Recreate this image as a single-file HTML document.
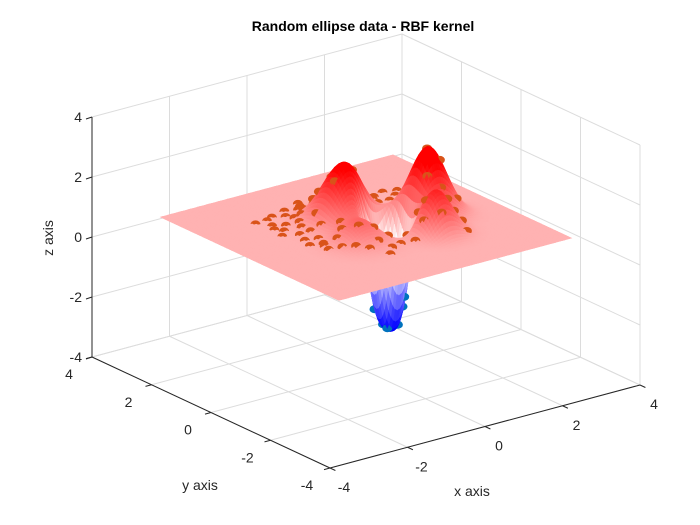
<!DOCTYPE html>
<html><head><meta charset="utf-8"><style>
html,body{margin:0;padding:0;background:#fff;}
svg{display:block;font-family:"Liberation Sans",Arial,sans-serif;}
</style></head><body>
<svg id="chart" width="700" height="525" viewBox="0 0 700 525">
<rect width="700" height="525" fill="#fff"/>
<g id="grid"></g>
<g id="axes"></g>
<g id="surf"></g>
<text x="363" y="31" text-anchor="middle" font-size="14" font-weight="bold" fill="#000">Random ellipse data - RBF kernel</text>
<text x="0" y="0" transform="translate(53,238) rotate(-90)" text-anchor="middle" font-size="14" fill="#262626">z axis</text>
<text x="200" y="490" text-anchor="middle" font-size="14" fill="#262626">y axis</text>
<text x="472" y="496" text-anchor="middle" font-size="14" fill="#262626">x axis</text>
</svg>
<script>
const ticks = [-4, -2, 0, 2, 4];
const tickLabels = ["-4", "-2", "0", "2", "4"];
const planeBase = 0.78;
const bumpX = [-0.18, 1.44, 0.90, -0.70, 0.32];
const bumpY = [0.50, -0.22, -1.20, -0.70, -0.30];
const bumpAmp = [2.0, 2.3, 1.45, 0.75, -3.6];
const bumpSigma = [0.45, 0.38, 0.33, 0.40, 0.36];
const bumpPower = [1, 1, 1, 1, 1.8];
const posX = [-1.4,-1.2,-1.0,-0.8,-0.6,-0.4,-0.2,0.0,0.2,0.4,0.6,0.8,1.0,1.2,1.5,1.6,-1.5,-1.3,-1.5,-1.2,-1.4,-1.5,-1.3,-1.4,-1.2,-1.3,-1.1,-0.9,-0.6,-0.4,-0.1,0.2,0.5,0.8,1.1,1.4,1.5,1.4,1.6,1.5,1.7,1.5,1.6,-1.0,-0.7,-0.4,-1.1,-0.9,-1.0,-0.8,-1.0,-0.8,-0.5,-0.2,0.3,0.7,1.1,1.2,1.3,1.1,0.5,0.1,-0.2,-0.6,-0.5,-1.7,-1.6,-1.7,-0.3,0.4,1.8,1.8,1.3,-0.6,-1.5,1.0,0.9,-0.3,0.1,-1.6,-1.2,-0.9,-0.6,-1.45];
const posY = [1.5,1.6,1.4,1.7,1.5,1.7,1.5,1.6,1.7,1.5,1.6,1.4,1.5,1.3,1.4,1.1,1.2,1.0,0.8,0.6,0.4,0.1,-0.1,-0.4,-0.6,-0.9,-1.1,-1.3,-1.2,-1.4,-1.3,-1.4,-1.3,-1.5,-1.3,-1.4,-1.0,-0.7,-0.4,-0.1,0.2,0.5,0.8,1.1,1.2,1.2,0.8,0.5,0.2,-0.2,-0.5,-0.8,-0.9,-1.0,-1.0,-1.1,-0.9,-0.5,0.9,1.2,1.2,1.3,0.9,0.8,0.4,0.6,-0.2,1.5,1.9,1.9,1.3,-0.7,-1.7,-1.6,-0.7,0.9,-0.6,-0.5,0.6,1.0,0.3,1.0,1.0,-0.5];
const negX = [0.27,0.50,0.18,0.62,0.30,0.08,0.48,0.62];
const negY = [-0.22,-0.42,-0.48,-0.12,0.00,-0.18,-0.66,-0.42];

const NS = "http://www.w3.org/2000/svg";
function P(x,y,z){ return [366 + 38.75*x - 29.75*y, 251 - 10.375*x - 13.875*y - 30*z]; }
function depth(x,y){ return -10.375*x - 13.875*y; }
function f(x,y){
  let z = planeBase;
  for (let i=0;i<bumpX.length;i++){
    const dx=x-bumpX[i], dy=y-bumpY[i];
    const q=(dx*dx+dy*dy)/(2*bumpSigma[i]*bumpSigma[i]);
    z += bumpAmp[i]*Math.exp(-Math.pow(q,bumpPower[i]));
  }
  return z;
}
function col(z){
  let r,g,b;
  if (z>=0){ const t=Math.min(1,z/2.6); r=255; g=Math.round(255*(1-t)); b=g; }
  else { const t=Math.min(1,-z/2.4); r=Math.round(255*(1-t)); g=r; b=255; }
  return `rgb(${r},${g},${b})`;
}
function mk(tag, attrs, parent){
  const e=document.createElementNS(NS,tag);
  for (const k in attrs) e.setAttribute(k, attrs[k]);
  parent.appendChild(e); return e;
}
const grid=document.getElementById('grid'), axes=document.getElementById('axes'), surf=document.getElementById('surf');
function line(a,b,parent,stroke,w,name){
  const l=mk('line',{x1:a[0],y1:a[1],x2:b[0],y2:b[1],stroke:stroke,'stroke-width':w},parent);
  
  
}
const gc="#dcdcdc";
ticks.forEach(t=>{
  line(P(t,-4,-4),P(t,4,-4),grid,gc,1,'floor-grid-x');
  line(P(-4,t,-4),P(4,t,-4),grid,gc,1,'floor-grid-y');
  line(P(t,4,-4),P(t,4,4),grid,gc,1,'back-wall-grid-x');
  line(P(-4,4,t),P(4,4,t),grid,gc,1,'back-wall-grid-z');
  line(P(4,t,-4),P(4,t,4),grid,gc,1,'side-wall-grid-y');
  line(P(4,-4,t),P(4,4,t),grid,gc,1,'side-wall-grid-z');
});
const ac="#262626";
line(P(-4,4,-4),P(-4,4,4),axes,ac,1,'z-axis-line');
line(P(-4,4,-4),P(-4,-4,-4),axes,ac,1,'y-axis-line');
line(P(-4,-4,-4),P(4,-4,-4),axes,ac,1,'x-axis-line');
ticks.forEach((t,i)=>{
  const pz=P(-4,4,t);
  line(pz,[pz[0]-6,pz[1]+2],axes,ac,1,'z-tick');
  const tz=mk('text',{x:pz[0]-10,y:pz[1]+5,'text-anchor':'end','font-size':14,fill:ac},axes);
  tz.textContent=tickLabels[i];
  
  
  const py=P(-4,t,-4);
  line(py,[py[0]-6,py[1]+1.6],axes,ac,1,'y-tick');
  const ty=mk('text',{x:py[0]-23,y:py[1]+22,'text-anchor':'middle','font-size':14,fill:ac},axes);
  ty.textContent=tickLabels[i];
  
  
  const px=P(t,-4,-4);
  line(px,[px[0]+5.4,px[1]+2.5],axes,ac,1,'x-tick');
  const tx=mk('text',{x:px[0]+14,y:px[1]+24,'text-anchor':'middle','font-size':14,fill:ac},axes);
  tx.textContent=tickLabels[i];
  
  
});
const items=[];
const N=100, lo=-3, hi=3, st=(hi-lo)/N;
for(let i=0;i<N;i++) for(let j=0;j<N;j++){
  const x0=lo+i*st, y0=lo+j*st, x1=x0+st, y1=y0+st;
  const z00=f(x0,y0), z10=f(x1,y0), z11=f(x1,y1), z01=f(x0,y1);
  const zc=(z00+z10+z11+z01)/4;
  items.push({d:depth(x0+st/2,y0+st/2), kind:'q', pts:[P(x0,y0,z00),P(x1,y0,z10),P(x1,y1,z11),P(x0,y1,z01)], c:col(zc)});
}
posX.forEach((x,k)=>{ const y=posY[k]; items.push({d:depth(x,y)+0.3, kind:'p', p:P(x,y,f(x,y)), c:'#D95319', n:'positive-point'}); });
negX.forEach((x,k)=>{ const y=negY[k]; items.push({d:depth(x,y)+0.3, kind:'p', p:P(x,y,f(x,y)), c:'#0072BD', n:'negative-point'}); });
items.sort((a,b)=>a.d-b.d);
items.forEach(it=>{
  if(it.kind==='q'){
    const e=mk('path',{d:'M'+it.pts.map(p=>p[0].toFixed(1)+','+p[1].toFixed(1)).join('L')+'Z',fill:it.c,stroke:it.c,'stroke-width':0.6},surf);
    
    
  } else {
    const e=mk('ellipse',{cx:it.p[0].toFixed(1),cy:it.p[1].toFixed(1),rx:5,ry:4,fill:it.c},surf);
    
    
  }
});
</script>
</body></html>
